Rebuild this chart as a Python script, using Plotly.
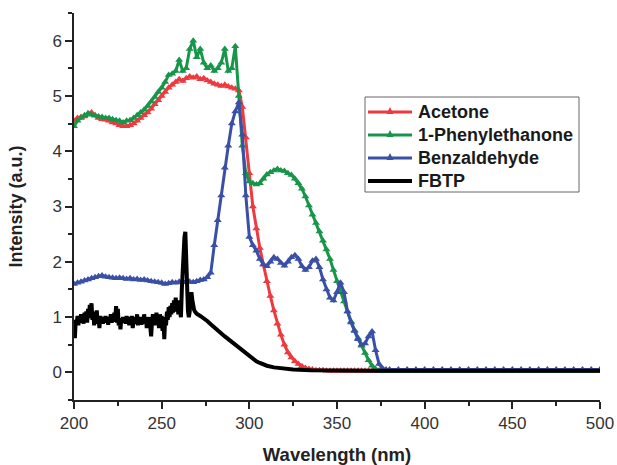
import plotly.graph_objects as go

# Wavelength grid shared by the three solvent spectra (nm)
wl = list(range(200, 381, 2)) + list(range(385, 501, 5))

acetone = [
    4.55, 4.60, 4.62, 4.63, 4.68, 4.70, 4.65, 4.60, 4.58, 4.57,   # 200-218
    4.55, 4.52, 4.50, 4.47, 4.45, 4.45, 4.47, 4.50, 4.55, 4.60,   # 220-238
    4.65, 4.70, 4.77, 4.85, 4.92, 5.00, 5.07, 5.15, 5.20, 5.25,   # 240-258
    5.30, 5.27, 5.32, 5.35, 5.33, 5.35, 5.30, 5.32, 5.28, 5.25,   # 260-278
    5.22, 5.20, 5.18, 5.20, 5.17, 5.15, 5.13, 5.10, 4.80, 4.25,   # 280-298
    3.60, 3.00, 2.60, 2.25, 1.95, 1.65, 1.38, 1.12, 0.88, 0.68,   # 300-318
    0.50, 0.36, 0.27, 0.20, 0.15, 0.11, 0.08, 0.06, 0.05, 0.04,   # 320-338
    0.04, 0.04, 0.03, 0.03, 0.03, 0.03, 0.03, 0.03, 0.03, 0.03,   # 340-358
    0.03, 0.03, 0.03, 0.03, 0.03, 0.03, 0.03, 0.03, 0.03, 0.03,   # 360-378
    0.03,                                                         # 380
    0.03, 0.03, 0.03, 0.03, 0.03, 0.03, 0.03, 0.03, 0.03, 0.03,   # 385-430
    0.03, 0.03, 0.03, 0.03, 0.03, 0.03, 0.03, 0.03, 0.03, 0.03,   # 435-480
    0.03, 0.03, 0.03, 0.03,                                       # 485-500
]

phenylethanone = [
    4.45, 4.55, 4.60, 4.65, 4.68, 4.66, 4.64, 4.63, 4.62, 4.60,   # 200-218
    4.60, 4.58, 4.56, 4.55, 4.52, 4.55, 4.56, 4.60, 4.65, 4.70,   # 220-238
    4.75, 4.82, 4.90, 4.98, 5.07, 5.15, 5.25, 5.38, 5.40, 5.45,   # 240-258
    5.65, 5.45, 5.50, 5.85, 6.00, 5.70, 5.85, 5.60, 5.50, 5.55,   # 260-278
    5.45, 5.50, 5.60, 5.85, 5.45, 5.50, 5.90, 5.00, 4.10, 3.60,   # 280-298
    3.45, 3.42, 3.40, 3.42, 3.50, 3.58, 3.62, 3.65, 3.68, 3.65,   # 300-318
    3.64, 3.60, 3.57, 3.50, 3.42, 3.32, 3.18, 3.02, 2.85, 2.70,   # 320-338
    2.55, 2.38, 2.22, 2.05, 1.85, 1.65, 1.45, 1.28, 1.10, 0.92,   # 340-358
    0.76, 0.62, 0.48, 0.35, 0.22, 0.12, 0.06, 0.03, 0.02, 0.02,   # 360-378
    0.02,                                                         # 380
    0.02, 0.02, 0.02, 0.02, 0.02, 0.02, 0.02, 0.02, 0.02, 0.02,   # 385-430
    0.02, 0.02, 0.02, 0.02, 0.02, 0.02, 0.02, 0.02, 0.02, 0.02,   # 435-480
    0.02, 0.02, 0.02, 0.02,                                       # 485-500
]

benzaldehyde = [
    1.60, 1.62, 1.64, 1.66, 1.68, 1.70, 1.72, 1.74, 1.75, 1.73,   # 200-218
    1.72, 1.71, 1.70, 1.71, 1.70, 1.69, 1.70, 1.68, 1.69, 1.67,   # 220-238
    1.68, 1.66, 1.65, 1.64, 1.63, 1.62, 1.60, 1.61, 1.63, 1.62,   # 240-258
    1.64, 1.63, 1.65, 1.64, 1.63, 1.65, 1.67, 1.68, 1.72, 1.80,   # 260-278
    2.30, 2.75, 3.20, 3.70, 4.10, 4.50, 4.72, 4.88, 4.30, 3.20,   # 280-298
    2.45, 2.30, 2.20, 2.05, 1.95, 1.92, 2.00, 2.08, 2.05, 1.98,   # 300-318
    1.93, 2.00, 2.08, 2.12, 2.05, 1.92, 1.85, 1.90, 2.02, 2.05,   # 320-338
    1.90, 1.68, 1.50, 1.35, 1.30, 1.45, 1.62, 1.45, 1.10, 0.90,   # 340-358
    0.75, 0.60, 0.50, 0.52, 0.65, 0.74, 0.40, 0.15, 0.07, 0.05,   # 360-378
    0.05,                                                         # 380
    0.05, 0.05, 0.05, 0.05, 0.05, 0.05, 0.05, 0.05, 0.05, 0.05,   # 385-430
    0.05, 0.05, 0.05, 0.05, 0.05, 0.05, 0.05, 0.05, 0.05, 0.05,   # 435-480
    0.05, 0.05, 0.05, 0.05,                                       # 485-500
]

# FBTP spectrum: 0.5 nm steps through the noisy region, coarser afterwards
fbtp_wl = ([200 + 0.5 * i for i in range(140)] + list(range(270, 312, 2))
           + [314, 318, 325, 335] + list(range(350, 501, 10)))
fbtp = [
    0.80, 0.62, 0.95, 0.88, 1.02, 0.85, 0.98, 0.90, 1.05, 0.92,   # 200-204.5
    1.00, 0.88, 1.08, 0.95, 1.10, 0.90, 1.15, 0.98, 1.22, 1.00,   # 205-209.5
    1.25, 0.95, 1.10, 0.85, 1.05, 0.92, 1.12, 0.88, 1.00, 0.80,   # 210-214.5
    1.02, 0.90, 0.98, 0.88, 1.00, 0.92, 1.02, 0.90, 0.98, 0.86,   # 215-219.5
    1.00, 0.95, 1.05, 0.90, 1.00, 0.92, 1.08, 0.95, 1.20, 0.90,   # 220-224.5
    1.15, 0.85, 0.95, 0.78, 0.98, 0.90, 1.00, 0.92, 0.98, 0.88,   # 225-229.5
    1.02, 0.90, 0.98, 0.85, 1.00, 0.88, 1.02, 0.80, 0.95, 0.88,   # 230-234.5
    1.00, 0.90, 1.05, 0.85, 0.98, 0.90, 1.00, 0.86, 0.98, 0.88,   # 235-239.5
    1.05, 0.90, 1.00, 0.80, 0.95, 0.88, 1.00, 0.85, 0.65, 0.92,   # 240-244.5
    1.05, 0.90, 1.00, 0.85, 1.08, 0.92, 1.00, 0.80, 1.05, 0.88,   # 245-249.5
    1.02, 0.75, 0.95, 0.60, 1.00, 0.85, 1.10, 0.95, 1.18, 1.00,   # 250-254.5
    1.20, 1.05, 1.25, 1.08, 1.30, 1.10, 1.35, 1.15, 1.28, 1.05,   # 255-259.5
    1.30, 1.10, 1.00, 1.50, 2.00, 2.30, 2.45, 2.54, 2.00, 1.40,   # 260-264.5
    1.10, 1.00, 1.10, 1.35, 1.45, 1.30, 1.18, 1.13, 1.10, 1.08,   # 265-269.5
    1.06, 1.02, 0.98, 0.93, 0.87, 0.81, 0.75, 0.70, 0.65, 0.60,   # 270-288
    0.55, 0.50, 0.44, 0.39, 0.34, 0.29, 0.24, 0.20, 0.17, 0.14,   # 290-308
    0.12,                                                         # 310
    0.09, 0.07, 0.05, 0.04,                                       # 314-335
    0.03, 0.03, 0.03, 0.03, 0.03, 0.03, 0.03, 0.03, 0.03, 0.03,   # 350-440
    0.03, 0.03, 0.03, 0.03, 0.03, 0.03,                           # 450-500
]

legend_names = ["Acetone", "1-Phenylethanone", "Benzaldehyde", "FBTP"]
colors = ["#ee3a3f", "#17964a", "#3a4fa6", "#000000"]

fig = go.Figure()
for name, vals, col in zip(legend_names[:3], [acetone, phenylethanone, benzaldehyde], colors[:3]):
    fig.add_trace(go.Scatter(
        x=wl, y=vals, name=name, mode="lines+markers", showlegend=False,
        line=dict(color=col, width=3),
        marker=dict(symbol="triangle-up", size=7, color=col, line=dict(width=0)),
    ))
fig.add_trace(go.Scatter(
    x=fbtp_wl, y=fbtp, name=legend_names[3], mode="lines", showlegend=False,
    line=dict(color=colors[3], width=4),
))

# Page geometry (pixels) used to lay out the boxed key inside the plot
W, H = 617, 465
ML, MR, MT, MB = 74, 17, 13, 65
pw, ph = W - ML - MR, H - MT - MB


def px(xp):
    return (xp - ML) / pw


def py(yp):
    return (H - MB - yp) / ph


shapes = [dict(type="rect", xref="paper", yref="paper",
               x0=px(365), x1=px(579), y0=py(192), y1=py(97),
               line=dict(color="#666", width=1), fillcolor="white", layer="above")]
annotations = []
row_y = [112, 135, 158, 181]
for i, (name, col) in enumerate(zip(legend_names, colors)):
    yy = row_y[i]
    shapes.append(dict(type="line", xref="paper", yref="paper",
                       x0=px(368), x1=px(412), y0=py(yy), y1=py(yy),
                       line=dict(color=col, width=4 if i == 3 else 3), layer="above"))
    if i < 3:
        shapes.append(dict(
            type="path", xref="paper", yref="paper", layer="above",
            path=(f"M {px(386.5)},{py(yy + 2)} L {px(393.5)},{py(yy + 2)} "
                  f"L {px(390)},{py(yy - 5)} Z"),
            fillcolor=col, line=dict(color=col, width=0)))
    annotations.append(dict(
        xref="paper", yref="paper", x=px(416), y=py(yy), xanchor="left", yanchor="middle",
        text=f"<b>{name}</b>", showarrow=False, font=dict(size=18, color="#1a1a1a")))

font_family = "Liberation Sans, Arial, sans-serif"
axis_common = dict(
    showline=True, linecolor="#222", linewidth=1.5, mirror=False,
    ticks="outside", ticklen=7, tickwidth=1.5, tickcolor="#222",
    showgrid=False, zeroline=False, automargin=False,
    tickfont=dict(size=17, color="#333"),
)
fig.update_layout(
    width=W, height=H,
    margin=dict(l=ML, r=MR, t=MT, b=MB),
    paper_bgcolor="white", plot_bgcolor="white",
    font=dict(family=font_family, size=17, color="#222"),
    showlegend=False,
    shapes=shapes, annotations=annotations,
    xaxis=dict(
        range=[200, 500], tickvals=[200, 250, 300, 350, 400, 450, 500],
        minor=dict(dtick=25, ticks="outside", ticklen=4, tickwidth=1.5, tickcolor="#222"),
        title=dict(text="<b>Wavelength (nm)</b>", font=dict(size=18.5), standoff=19),
        **axis_common,
    ),
    yaxis=dict(
        range=[-0.5, 6.5], tickvals=[0, 1, 2, 3, 4, 5, 6],
        minor=dict(dtick=0.5, ticks="outside", ticklen=4, tickwidth=1.5, tickcolor="#222"),
        title=dict(text="<b>Intensity (a.u.)</b>", font=dict(size=18), standoff=25),
        **axis_common,
    ),
)

fig.write_html("out.html")
